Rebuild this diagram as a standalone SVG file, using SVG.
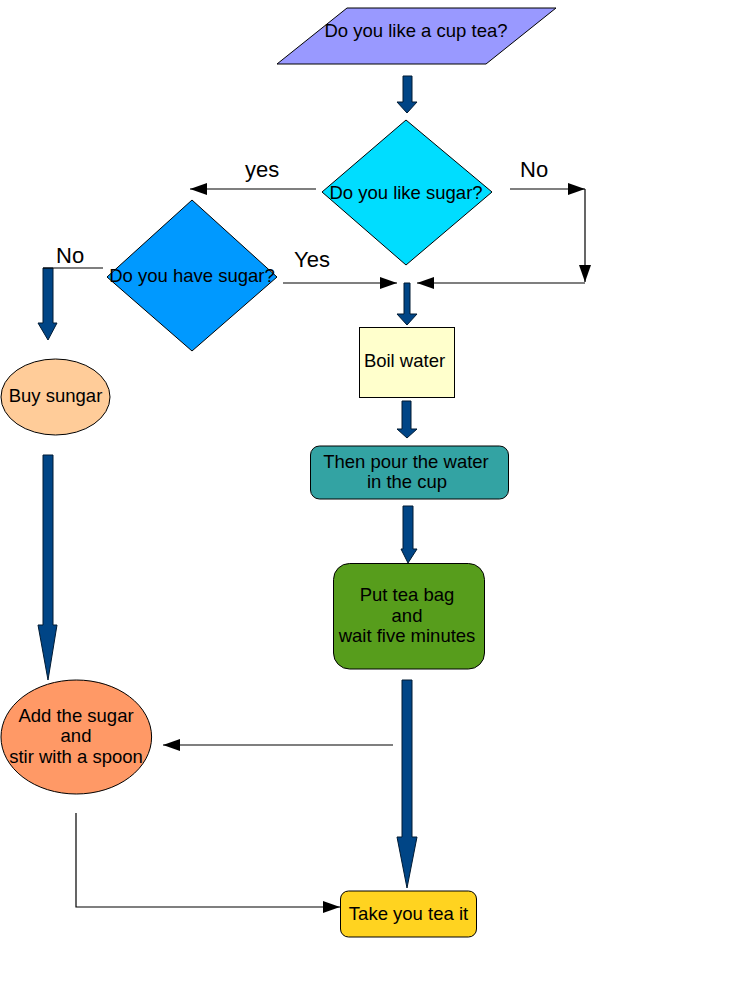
<svg xmlns="http://www.w3.org/2000/svg" width="741" height="981" viewBox="0 0 741 981">
<style>
.sh{stroke:#000;stroke-width:1}
.t{font-family:"Liberation Sans",Arial,sans-serif;font-size:18.5px;fill:#000;text-anchor:middle}
.lb{font-family:"Liberation Sans",Arial,sans-serif;font-size:22px;fill:#000}
.ba{fill:#004586;stroke:#001a33;stroke-width:1}
.ln{fill:none;stroke:#000;stroke-width:1.2}
</style>
<defs>
<marker id="ah" markerUnits="userSpaceOnUse" markerWidth="17" markerHeight="12" refX="17" refY="6" orient="auto">
<path d="M0,0 L17,6 L0,12 z" fill="#000"/>
</marker>
</defs>
<rect width="741" height="981" fill="#fff"/>
<g id="n-cup">
<polygon class="sh" points="347,8 556,8 486,64 277,64" fill="#9999ff"/>
<text class="t" x="416" y="37">Do you like a cup tea?</text>
</g>
<g id="n-likesugar">
<polygon class="sh" points="406,120 492,192 406,265 322,192" fill="#00ddff"/>
<text class="t" x="406" y="199">Do you like sugar?</text>
</g>
<g id="n-havesugar">
<polygon class="sh" points="192,200 277,277 192,351 107,277" fill="#0099ff"/>
<text class="t" x="192" y="282">Do you have sugar?</text>
</g>
<g id="n-buy">
<ellipse class="sh" cx="55.5" cy="397" rx="54.5" ry="38" fill="#ffcc99"/>
<text class="t" x="55.5" y="402">Buy sungar</text>
</g>
<g id="n-boil">
<rect class="sh" x="359.5" y="327.5" width="95" height="70" fill="#ffffcc"/>
<text class="t" x="404.5" y="367">Boil water</text>
</g>
<g id="n-pour">
<rect class="sh" x="310.5" y="446" width="198" height="53" rx="9" fill="#33a3a3"/>
<text class="t" x="406" y="467.5">Then pour the water</text>
<text class="t" x="407" y="487.5">in the cup</text>
</g>
<g id="n-put">
<rect class="sh" x="333.5" y="563.5" width="151" height="105.5" rx="16" fill="#579d1c"/>
<text class="t" x="407" y="600.5">Put tea bag</text>
<text class="t" x="407" y="621.5">and</text>
<text class="t" x="407" y="641.5">wait five minutes</text>
</g>
<g id="n-add">
<ellipse class="sh" cx="76.3" cy="737" rx="75.3" ry="57" fill="#ff9966"/>
<text class="t" x="76" y="721.5">Add the sugar</text>
<text class="t" x="76" y="742">and</text>
<text class="t" x="76" y="762.5">stir with a spoon</text>
</g>
<g id="n-take">
<rect class="sh" x="340.5" y="891" width="136" height="46" rx="8" fill="#ffd320"/>
<text class="t" x="408.5" y="919.5">Take you tea it</text>
</g>
<g id="connectors">
<polygon class="ba" points="403,76 412,76 412,102 417,102 407,113 397,102 403,102"/>
<polygon class="ba" points="404,283 410,283 410,314 417,314 407,325 397,314 404,314"/>
<polygon class="ba" points="402,401 411,401 411,429 417,429 407,438 397,429 402,429"/>
<polygon class="ba" points="403,506 413,506 413,549 417,549 408,563 401,549 403,549"/>
<polygon class="ba" points="402,680 412,680 412,837 417,837 407,888 397,837 402,837"/>
<polygon class="ba" points="43,268 53,268 53,323 57,323 48,340 38,323 43,323"/>
<polygon class="ba" points="43,455 53,455 53,625 57,625 48,680 38,625 43,625"/>
<path class="ln" d="M316,189 H190" marker-end="url(#ah)"/>
<path class="ln" d="M510,189 H585" marker-end="url(#ah)"/>
<path class="ln" d="M585,189 V282" marker-end="url(#ah)"/>
<path class="ln" d="M585,283 H417" marker-end="url(#ah)"/>
<path class="ln" d="M283,283 H397" marker-end="url(#ah)"/>
<path class="ln" d="M43,268 H103"/>
<path class="ln" d="M393,745 H163" marker-end="url(#ah)"/>
<path class="ln" d="M76,813 V907 H340" marker-end="url(#ah)"/>
<text class="lb" x="245" y="177">yes</text>
<text class="lb" x="520" y="177">No</text>
<text class="lb" x="294" y="267">Yes</text>
<text class="lb" x="56" y="263">No</text>
</g>
</svg>
